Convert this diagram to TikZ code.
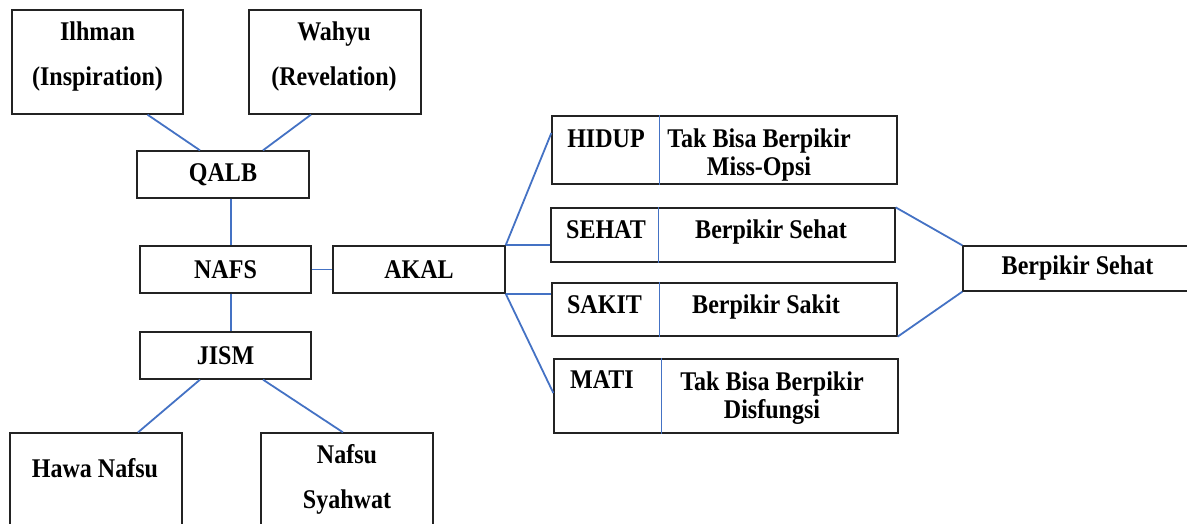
\documentclass[tikz,border=0pt]{standalone}
\usepackage{fontspec}
\setmainfont{Liberation Serif}[FakeStretch=0.89]
\usetikzlibrary{positioning}
\definecolor{ink}{RGB}{35,35,35}
\definecolor{wordblue}{RGB}{68,114,196}
\tikzset{
  box/.style={draw=ink,line width=1.3pt,inner sep=0pt,align=center,
    font=\fontsize{27}{28}\selectfont\bfseries},
  tag/.style={inner sep=0pt,anchor=base,align=center,
    font=\fontsize{27}{28}\selectfont\bfseries},
  link/.style={draw=wordblue,line width=1.8pt},
  split/.style={draw=wordblue,line width=1.2pt},
}
\begin{document}
\begin{tikzpicture}[x=1pt,y=-1pt]
  \useasboundingbox (0,0) rectangle (1187,523);
  % left tree
  \node[box,minimum width=171pt,minimum height=104pt] (ilhman) at (97.5,62) {};
  \node[box,minimum width=172pt,minimum height=104pt] (wahyu) at (335,62) {};
  \node[box,minimum width=172pt,minimum height=47pt] (qalb) at (223,174.5) {QALB};
  \node[box,minimum width=171pt,minimum height=47pt] (nafs) at (225.5,269.5) {NAFS};
  \node[box,minimum width=172pt,minimum height=47pt] (akal) at (419,269.5) {AKAL};
  \node[box,minimum width=171pt,minimum height=47pt] (jism) at (225.5,355.5) {JISM};
  \node[box,minimum width=172pt,minimum height=134pt] (hawa) at (96,500) {};
  \node[box,minimum width=172pt,minimum height=134pt] (syahwat) at (347,500) {};
  \node[tag] (ilhman-t) at (97.5,85) {Ilhman\\[16.5pt](Inspiration)};
  \node[tag] (wahyu-t) at (334,85) {Wahyu\\[16.5pt](Revelation)};
  \node[tag] (hawa-t) at (95,477) {Hawa Nafsu};
  \node[tag] (syahwat-t) at (347,508) {Nafsu\\[17pt]Syahwat};
  % right side
  \node[box,minimum width=345pt,minimum height=68pt] (hidup) at (724.5,150) {};
  \node[box,minimum width=344pt,minimum height=54pt] (sehat) at (723,235) {};
  \node[box,minimum width=345pt,minimum height=53pt] (sakit) at (724.5,309.5) {};
  \node[box,minimum width=344pt,minimum height=74pt] (mati) at (726,396) {};
  \node[box,minimum width=229pt,minimum height=45pt] (hasil) at (1077.5,268.5) {Berpikir Sehat};
  \foreach \b in {hidup,sehat,sakit,mati}
    \draw[split] ([xshift=108.5pt]\b.north west) -- ([xshift=108.5pt]\b.south west);
  \node[tag] (hidup-t) at (606,147) {HIDUP};
  \node[tag] (hidup-d) at (759,175) {Tak Bisa Berpikir\\Miss-Opsi};
  \node[tag] (sehat-t) at (606,238) {SEHAT};
  \node[tag] (sehat-d) at (771,238) {Berpikir Sehat};
  \node[tag] (sakit-t) at (604.5,313) {SAKIT};
  \node[tag] (sakit-d) at (766,313) {Berpikir Sakit};
  \node[tag] (mati-t) at (602,388) {MATI};
  \node[tag] (mati-d) at (772,418) {Tak Bisa Berpikir\\Disfungsi};
  % connectors
  \draw[link] ([xshift=50pt]ilhman.south) -- ([xshift=-23pt]qalb.north);
  \draw[link] ([xshift=-24pt]wahyu.south) -- ([xshift=40pt]qalb.north);
  \draw[link] ([xshift=8pt]qalb.south) -- ([xshift=5.5pt]nafs.north);
  \draw[link] (nafs) -- (akal);
  \draw[link] ([xshift=5.5pt]nafs.south) -- ([xshift=5.5pt]jism.north);
  \draw[link] ([xshift=-25.5pt]jism.south) -- ([xshift=42pt]hawa.north);
  \draw[link] ([xshift=37.5pt]jism.south) -- ([xshift=-4pt]syahwat.north);
  \draw[link] (akal.north east) -- ([yshift=17pt]hidup.west);
  \draw[link] (akal.north east) -- (akal.north east -| sehat.west);
  \draw[link] (akal.south east) -- (akal.south east -| sakit.west);
  \draw[link] (akal.south east) -- ([yshift=3pt]mati.west);
  \draw[link] (sehat.north east) -- (hasil.north west);
  \draw[link] (sakit.south east) -- (hasil.south west);
\end{tikzpicture}
\end{document}
